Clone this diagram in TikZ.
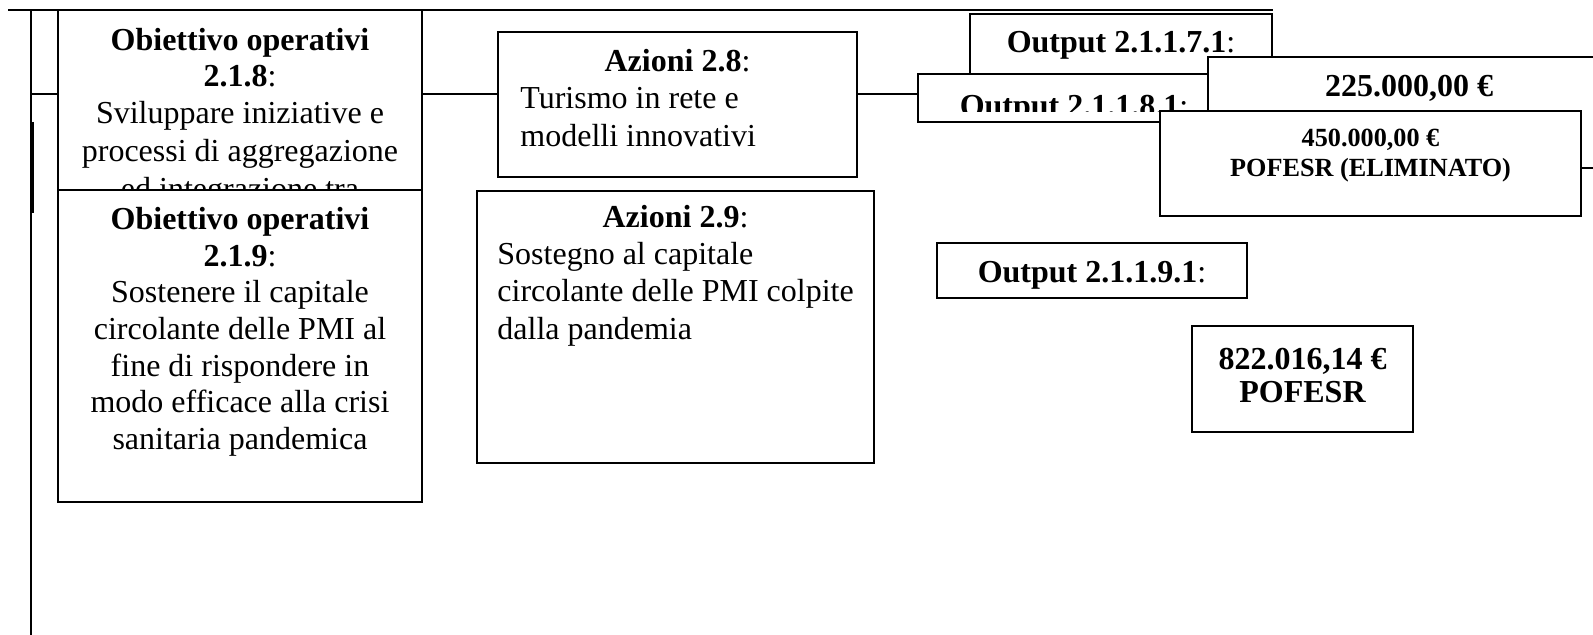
\documentclass[tikz,border=0pt]{standalone}
\usepackage{fontspec}
\setmainfont{Liberation Serif}
\usetikzlibrary{fit}
\begin{document}
\begin{tikzpicture}[x=0.5pt,y=-0.5pt,
  box/.style={draw, fill=white, line width=1pt, inner sep=0pt},
  conn/.style={line width=1pt},
  tx/.style={font=\fontsize{16}{19}\selectfont, inner sep=0pt, anchor=base},
  txb/.style={tx, font=\fontsize{16}{19}\selectfont\bfseries},
  txl/.style={tx, anchor=base west},
  txs/.style={font=\fontsize{13.1}{15}\selectfont\bfseries, inner sep=0pt, anchor=base}]
\useasboundingbox (0,0) rectangle (1593,635);

\coordinate (tl) at (8,10);
\coordinate (vt) at (31,10);
\coordinate (vb) at (31,635);
\coordinate (h1) at (0,94);
\coordinate (redge) at (1593,168);
\coordinate (tk1) at (32,122);
\coordinate (tk2) at (32,213);

% Obiettivo 2.1.8
\node[box, fit={(58,10) (422,300)}] (ob8) {};
\node[txb] (ob8a) at (240,50.5) {Obiettivo operativi};
\node[tx] (ob8b) at (240,86.5) {\textbf{2.1.8}:};
\node[tx] (ob8c) at (240,124) {Sviluppare iniziative e};
\node[tx] (ob8d) at (240,162) {processi di aggregazione};
\node[tx] (ob8e) at (240,200) {ed integrazione tra};

% Obiettivo 2.1.9
\node[box, fit={(58,190) (422,502)}] (ob9) {};
\node[txb] (ob9a) at (240,230) {Obiettivo operativi};
\node[tx] (ob9b) at (240,266.6) {\textbf{2.1.9}:};
\node[tx] (ob9c) at (240,303) {Sostenere il capitale};
\node[tx] (ob9d) at (240,339.8) {circolante delle PMI al};
\node[tx] (ob9e) at (240,376.4) {fine di rispondere in};
\node[tx] (ob9f) at (240,413) {modo efficace alla crisi};
\node[tx] (ob9g) at (240,449.6) {sanitaria pandemica};

% Azioni 2.8
\node[box, fit={(498,32) (857,177)}] (az8) {};
\node[tx] (az8a) at (677.5,72) {\textbf{Azioni 2.8}:};
\node[txl] (az8b) at (520,108.5) {Turismo in rete e};
\node[txl] (az8c) at (520,147) {modelli innovativi};

% Azioni 2.9
\node[box, fit={(477,191) (874,463)}] (az9) {};
\node[tx] (az9a) at (675.5,228) {\textbf{Azioni 2.9}:};
\node[txl] (az9b) at (497,265) {Sostegno al capitale};
\node[txl] (az9c) at (497,302) {circolante delle PMI colpite};
\node[txl] (az9d) at (497,340) {dalla pandemia};

% Output 2.1.1.7.1
\node[box, fit={(970,14) (1272,100)}] (o71) {};
\node[tx] (o71a) at (1121,53) {\textbf{Output 2.1.1.7.1}:};

% Output 2.1.1.8.1
\node[box, fit={(918,74) (1230,122)}] (o81) {};
\begin{scope}
  \clip (918,74) rectangle (1230,112);
  \node[tx] (o81a) at (1074,117) {\textbf{Output 2.1.1.8.1}:};
\end{scope}

% 225.000,00
\node[box, fit={(1208,57) (1610,168)}] (b225) {};
\node[txb] (b225a) at (1409,96.5) {225.000,00 €};

% 450.000,00
\node[box, fit={(1160,111) (1581,216)}] (b450) {};
\node[txs] (b450a) at (1370.5,147) {450.000,00 €};
\node[txs] (b450b) at (1370.5,177) {POFESR (ELIMINATO)};

% Output 2.1.1.9.1
\node[box, fit={(937,243) (1247,298)}] (o91) {};
\node[tx] (o91a) at (1092,283) {\textbf{Output 2.1.1.9.1}:};

% 822.016,14
\node[box, fit={(1192,326) (1413,432)}] (b822) {};
\node[txb] (b822a) at (1302.5,370) {822.016,14 €};
\node[txb] (b822b) at (1302.5,403) {POFESR};

% connectors
\draw[conn] (tl) -- (tl -| o71.east);
\draw[conn] (vt) -- (vb);
\draw[line width=1.75pt] (tk1) -- (tk2);
\draw[conn] (h1 -| vt) -- (h1 -| ob8.west);
\draw[conn] (h1 -| ob8.east) -- (h1 -| az8.west);
\draw[conn] (h1 -| az8.east) -- (h1 -| o81.west);
\draw[conn] (redge -| b450.east) -- (redge);
\end{tikzpicture}
\end{document}
